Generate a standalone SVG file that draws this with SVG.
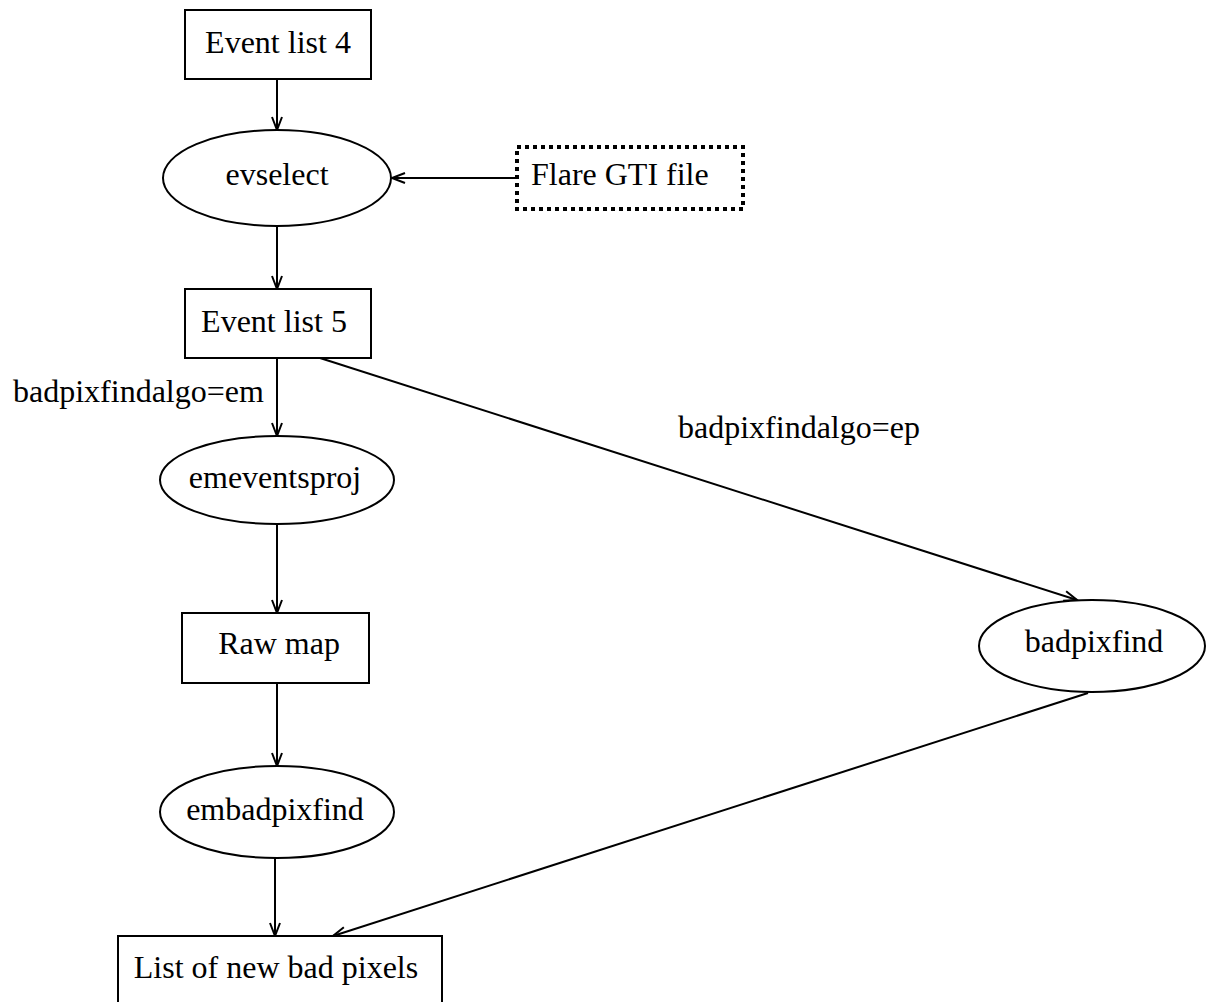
<svg xmlns="http://www.w3.org/2000/svg" width="1206" height="1002" viewBox="0 0 1206 1002">
<style>
.n{fill:#fff;stroke:#000;stroke-width:2}
.d{fill:#fff;stroke:#000;stroke-width:4;stroke-dasharray:4 4}
.t{font-family:"Liberation Serif","Times New Roman",serif;font-size:32px;fill:#000}
.e{fill:none;stroke:#000;stroke-width:2;marker-end:url(#a)}
</style>
<defs>
<marker id="a" markerUnits="userSpaceOnUse" markerWidth="16" markerHeight="14" refX="13" refY="6" orient="auto" overflow="visible">
<path d="M0,1 L13,6 L0,11" fill="none" stroke="#000" stroke-width="2"/>
</marker>
</defs>
<g id="connectors">
<line class="e" x1="277" y1="79" x2="277" y2="130"/>
<line class="e" x1="516" y1="178" x2="392" y2="178"/>
<line class="e" x1="277" y1="226" x2="277" y2="289"/>
<line class="e" x1="277" y1="358" x2="277" y2="436"/>
<line class="e" x1="320" y1="358" x2="1077" y2="600"/>
<line class="e" x1="277" y1="524" x2="277" y2="613"/>
<line class="e" x1="277" y1="684" x2="277" y2="766"/>
<line class="e" x1="275" y1="858" x2="275" y2="936"/>
<line class="e" x1="1088" y1="693" x2="333" y2="936"/>
<text class="t" x="13" y="402">badpixfindalgo=em</text>
<text class="t" x="678" y="438">badpixfindalgo=ep</text>
</g>
<g id="ev4"><rect class="n" x="185" y="10" width="186" height="69"/><text class="t" x="278" y="53" text-anchor="middle">Event list 4</text></g>
<g id="evselect"><ellipse class="n" cx="277" cy="178" rx="114" ry="48"/><text class="t" x="277" y="185" text-anchor="middle">evselect</text></g>
<g id="flare"><rect class="d" x="517" y="147" width="226" height="62"/><text class="t" x="531" y="185">Flare GTI file</text></g>
<g id="ev5"><rect class="n" x="185" y="289" width="186" height="69"/><text class="t" x="274" y="332" text-anchor="middle">Event list 5</text></g>
<g id="emeventsproj"><ellipse class="n" cx="277" cy="480" rx="117" ry="44"/><text class="t" x="275" y="488" text-anchor="middle">emeventsproj</text></g>
<g id="rawmap"><rect class="n" x="182" y="613" width="187" height="70"/><text class="t" x="279" y="654" text-anchor="middle">Raw map</text></g>
<g id="embadpixfind"><ellipse class="n" cx="277" cy="812" rx="117" ry="46"/><text class="t" x="275" y="820" text-anchor="middle">embadpixfind</text></g>
<g id="badpixfind"><ellipse class="n" cx="1092" cy="646" rx="113" ry="46"/><text class="t" x="1094" y="652" text-anchor="middle">badpixfind</text></g>
<g id="list"><rect class="n" x="118" y="936" width="324" height="70"/><text class="t" x="276" y="978" text-anchor="middle">List of new bad pixels</text></g>
</svg>
